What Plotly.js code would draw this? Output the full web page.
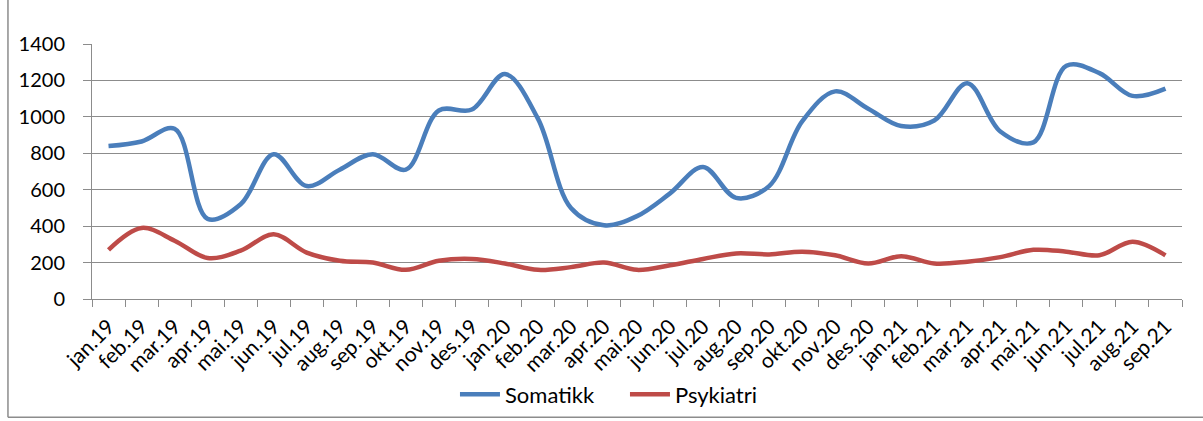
<!DOCTYPE html>
<html>
<head>
<meta charset="utf-8">
<script src="https://cdn.plot.ly/plotly-3.0.1.min.js"></script>
<style>html,body{margin:0;padding:0;background:#fff;}#chart{width:1203px;height:421px;}</style>
</head>
<body>
<div id="chart"></div>
<script>
const months = ["jan.19","feb.19","mar.19","apr.19","mai.19","jun.19","jul.19","aug.19","sep.19","okt.19","nov.19","des.19",
"jan.20","feb.20","mar.20","apr.20","mai.20","jun.20","jul.20","aug.20","sep.20","okt.20","nov.20","des.20",
"jan.21","feb.21","mar.21","apr.21","mai.21","jun.21","jul.21","aug.21","sep.21"];
const somatikk = [840,865,935,440,520,795,620,710,795,710,1035,1040,
1235,990,500,405,455,580,725,555,620,975,1140,1045,
950,980,1185,920,860,1280,1240,1115,1155];
const psykiatri = [270,390,320,225,265,355,255,210,200,160,210,220,
195,160,175,200,160,185,220,250,245,260,240,195,
235,195,205,230,270,260,240,315,240];
const yTicks = [0,200,400,600,800,1000,1200,1400];

const grid = '#8c8c8c';
const fontFam = 'Lato, "Open Sans", sans-serif';

const traces = [
  {x: months, y: somatikk, name: 'Somatikk', type: 'scatter', mode: 'lines',
   line: {color: '#4a7ebb', width: 4.5, shape: 'spline', smoothing: 1}},
  {x: months, y: psykiatri, name: 'Psykiatri', type: 'scatter', mode: 'lines',
   line: {color: '#be4b48', width: 4.5, shape: 'spline', smoothing: 1}}
];

const layout = {
  width: 1203, height: 421,
  margin: {l: 92, r: 21, t: 44, b: 121.5, autoexpand: false},
  paper_bgcolor: '#fff', plot_bgcolor: '#fff',
  font: {family: fontFam, color: '#000'},
  showlegend: true,
  legend: {orientation: 'h', x: 0.333, xanchor: 'left', y: -0.374, yanchor: 'middle',
           font: {family: fontFam, size: 22, color: '#000'}, itemwidth: 40, tracegroupgap: 0,
           entrywidth: 115, entrywidthmode: 'pixels'},
  xaxis: {type: 'category', range: [-0.5, 32.5], tickson: 'boundaries', ticks: 'outside',
          ticklen: 7, tickcolor: grid, showline: true, linecolor: grid, linewidth: 1,
          showgrid: false, tickangle: -45, tickfont: {family: fontFam, size: 21, color: '#000'},
          ticklabelstandoff: 6, fixedrange: true},
  yaxis: {range: [0, 1400], tickvals: yTicks, ticks: 'outside', ticklen: 8, tickcolor: grid,
          showline: true, linecolor: grid, linewidth: 1, showgrid: true, gridcolor: grid, gridwidth: 1,
          zeroline: false, tickfont: {family: fontFam, size: 20, color: '#000'}, ticklabelstandoff: 14,
          fixedrange: true},
  shapes: [
    {type: 'line', xref: 'paper', yref: 'paper', x0: -0.0771, x1: -0.0771, y0: -0.4638, y1: 1.2,
     line: {color: '#8c8c8c', width: 1.5}},
    {type: 'line', xref: 'paper', yref: 'paper', x0: -0.0771, x1: 1.03, y0: -0.4638, y1: -0.4638,
     line: {color: '#8c8c8c', width: 1.5}}
  ]
};

Plotly.newPlot('chart', traces, layout, {displayModeBar: false, staticPlot: true});
</script>
</body>
</html>
